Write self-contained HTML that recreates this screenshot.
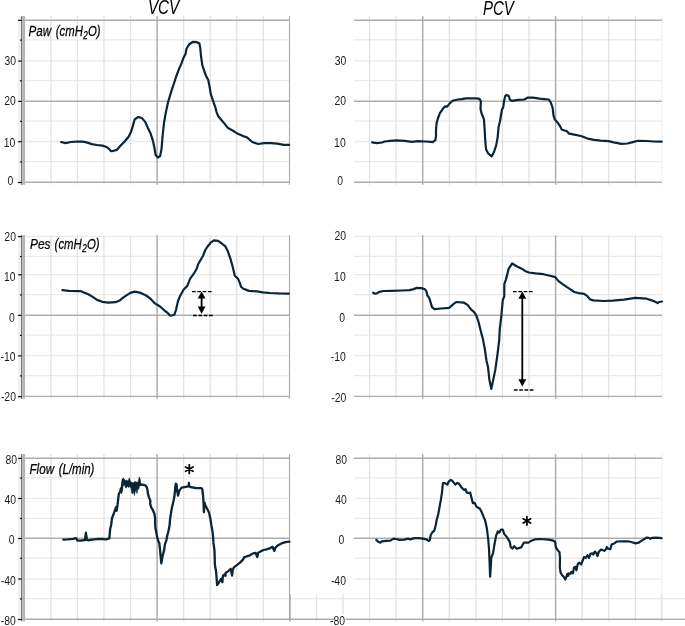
<!DOCTYPE html>
<html><head><meta charset="utf-8"><style>
html,body{margin:0;padding:0;background:#fff;}
svg{display:block;}
</style></head><body>
<svg width="685" height="626" viewBox="0 0 685 626">
<rect width="685" height="626" fill="#fff"/>
<line x1="25.10" y1="39.90" x2="289.90" y2="39.90" stroke="#e9e9e9" stroke-width="1.3"/>
<line x1="25.10" y1="60.90" x2="289.90" y2="60.90" stroke="#e9e9e9" stroke-width="1.3"/>
<line x1="25.10" y1="80.60" x2="289.90" y2="80.60" stroke="#e9e9e9" stroke-width="1.3"/>
<line x1="25.10" y1="121.20" x2="289.90" y2="121.20" stroke="#e9e9e9" stroke-width="1.3"/>
<line x1="25.10" y1="141.50" x2="289.90" y2="141.50" stroke="#e9e9e9" stroke-width="1.3"/>
<line x1="25.10" y1="161.70" x2="289.90" y2="161.70" stroke="#e9e9e9" stroke-width="1.3"/>
<line x1="50.86" y1="16.10" x2="50.86" y2="184.80" stroke="#e2e2e2" stroke-width="1.3"/>
<line x1="77.42" y1="16.10" x2="77.42" y2="184.80" stroke="#e2e2e2" stroke-width="1.3"/>
<line x1="103.98" y1="16.10" x2="103.98" y2="184.80" stroke="#e2e2e2" stroke-width="1.3"/>
<line x1="130.54" y1="16.10" x2="130.54" y2="184.80" stroke="#e2e2e2" stroke-width="1.3"/>
<line x1="183.66" y1="16.10" x2="183.66" y2="184.80" stroke="#e2e2e2" stroke-width="1.3"/>
<line x1="210.22" y1="16.10" x2="210.22" y2="184.80" stroke="#e2e2e2" stroke-width="1.3"/>
<line x1="236.78" y1="16.10" x2="236.78" y2="184.80" stroke="#e2e2e2" stroke-width="1.3"/>
<line x1="263.34" y1="16.10" x2="263.34" y2="184.80" stroke="#e2e2e2" stroke-width="1.3"/>
<line x1="354.00" y1="39.90" x2="661.92" y2="39.90" stroke="#e9e9e9" stroke-width="1.3"/>
<line x1="354.00" y1="60.90" x2="661.92" y2="60.90" stroke="#e9e9e9" stroke-width="1.3"/>
<line x1="354.00" y1="80.60" x2="661.92" y2="80.60" stroke="#e9e9e9" stroke-width="1.3"/>
<line x1="354.00" y1="121.20" x2="661.92" y2="121.20" stroke="#e9e9e9" stroke-width="1.3"/>
<line x1="354.00" y1="141.50" x2="661.92" y2="141.50" stroke="#e9e9e9" stroke-width="1.3"/>
<line x1="354.00" y1="161.70" x2="661.92" y2="161.70" stroke="#e9e9e9" stroke-width="1.3"/>
<line x1="369.54" y1="16.10" x2="369.54" y2="184.80" stroke="#e2e2e2" stroke-width="1.3"/>
<line x1="396.12" y1="16.10" x2="396.12" y2="184.80" stroke="#e2e2e2" stroke-width="1.3"/>
<line x1="449.28" y1="16.10" x2="449.28" y2="184.80" stroke="#e2e2e2" stroke-width="1.3"/>
<line x1="475.86" y1="16.10" x2="475.86" y2="184.80" stroke="#e2e2e2" stroke-width="1.3"/>
<line x1="502.44" y1="16.10" x2="502.44" y2="184.80" stroke="#e2e2e2" stroke-width="1.3"/>
<line x1="529.02" y1="16.10" x2="529.02" y2="184.80" stroke="#e2e2e2" stroke-width="1.3"/>
<line x1="582.18" y1="16.10" x2="582.18" y2="184.80" stroke="#e2e2e2" stroke-width="1.3"/>
<line x1="608.76" y1="16.10" x2="608.76" y2="184.80" stroke="#e2e2e2" stroke-width="1.3"/>
<line x1="635.34" y1="16.10" x2="635.34" y2="184.80" stroke="#e2e2e2" stroke-width="1.3"/>
<line x1="661.92" y1="16.10" x2="661.92" y2="184.80" stroke="#f2f2f2" stroke-width="1.3"/>
<rect x="17.8" y="16.10" width="3.2" height="168.70" fill="#f1f1f1"/>
<rect x="21.0" y="16.10" width="1.3" height="168.70" fill="#7a7a7a"/>
<rect x="22.3" y="16.10" width="2.8" height="168.70" fill="#b4b4b4"/>
<line x1="25.10" y1="236.40" x2="289.90" y2="236.40" stroke="#e9e9e9" stroke-width="1.3"/>
<line x1="25.10" y1="256.30" x2="289.90" y2="256.30" stroke="#e9e9e9" stroke-width="1.3"/>
<line x1="25.10" y1="274.60" x2="289.90" y2="274.60" stroke="#e9e9e9" stroke-width="1.3"/>
<line x1="25.10" y1="294.70" x2="289.90" y2="294.70" stroke="#e9e9e9" stroke-width="1.3"/>
<line x1="25.10" y1="335.20" x2="289.90" y2="335.20" stroke="#e9e9e9" stroke-width="1.3"/>
<line x1="25.10" y1="355.70" x2="289.90" y2="355.70" stroke="#e9e9e9" stroke-width="1.3"/>
<line x1="25.10" y1="375.70" x2="289.90" y2="375.70" stroke="#e9e9e9" stroke-width="1.3"/>
<line x1="50.86" y1="235.20" x2="50.86" y2="398.70" stroke="#e2e2e2" stroke-width="1.3"/>
<line x1="77.42" y1="235.20" x2="77.42" y2="398.70" stroke="#e2e2e2" stroke-width="1.3"/>
<line x1="103.98" y1="235.20" x2="103.98" y2="398.70" stroke="#e2e2e2" stroke-width="1.3"/>
<line x1="130.54" y1="235.20" x2="130.54" y2="398.70" stroke="#e2e2e2" stroke-width="1.3"/>
<line x1="183.66" y1="235.20" x2="183.66" y2="398.70" stroke="#e2e2e2" stroke-width="1.3"/>
<line x1="210.22" y1="235.20" x2="210.22" y2="398.70" stroke="#e2e2e2" stroke-width="1.3"/>
<line x1="236.78" y1="235.20" x2="236.78" y2="398.70" stroke="#e2e2e2" stroke-width="1.3"/>
<line x1="263.34" y1="235.20" x2="263.34" y2="398.70" stroke="#e2e2e2" stroke-width="1.3"/>
<line x1="354.00" y1="236.40" x2="661.92" y2="236.40" stroke="#e9e9e9" stroke-width="1.3"/>
<line x1="354.00" y1="256.30" x2="661.92" y2="256.30" stroke="#e9e9e9" stroke-width="1.3"/>
<line x1="354.00" y1="274.60" x2="661.92" y2="274.60" stroke="#e9e9e9" stroke-width="1.3"/>
<line x1="354.00" y1="294.70" x2="661.92" y2="294.70" stroke="#e9e9e9" stroke-width="1.3"/>
<line x1="354.00" y1="335.20" x2="661.92" y2="335.20" stroke="#e9e9e9" stroke-width="1.3"/>
<line x1="354.00" y1="355.70" x2="661.92" y2="355.70" stroke="#e9e9e9" stroke-width="1.3"/>
<line x1="354.00" y1="375.70" x2="661.92" y2="375.70" stroke="#e9e9e9" stroke-width="1.3"/>
<line x1="369.54" y1="235.20" x2="369.54" y2="398.70" stroke="#e2e2e2" stroke-width="1.3"/>
<line x1="396.12" y1="235.20" x2="396.12" y2="398.70" stroke="#e2e2e2" stroke-width="1.3"/>
<line x1="449.28" y1="235.20" x2="449.28" y2="398.70" stroke="#e2e2e2" stroke-width="1.3"/>
<line x1="475.86" y1="235.20" x2="475.86" y2="398.70" stroke="#e2e2e2" stroke-width="1.3"/>
<line x1="502.44" y1="235.20" x2="502.44" y2="398.70" stroke="#e2e2e2" stroke-width="1.3"/>
<line x1="529.02" y1="235.20" x2="529.02" y2="398.70" stroke="#e2e2e2" stroke-width="1.3"/>
<line x1="582.18" y1="235.20" x2="582.18" y2="398.70" stroke="#e2e2e2" stroke-width="1.3"/>
<line x1="608.76" y1="235.20" x2="608.76" y2="398.70" stroke="#e2e2e2" stroke-width="1.3"/>
<line x1="635.34" y1="235.20" x2="635.34" y2="398.70" stroke="#e2e2e2" stroke-width="1.3"/>
<line x1="661.92" y1="235.20" x2="661.92" y2="398.70" stroke="#f2f2f2" stroke-width="1.3"/>
<rect x="17.8" y="235.20" width="3.2" height="163.50" fill="#f1f1f1"/>
<rect x="21.0" y="235.20" width="1.3" height="163.50" fill="#7a7a7a"/>
<rect x="22.3" y="235.20" width="2.8" height="163.50" fill="#b4b4b4"/>
<line x1="25.10" y1="477.90" x2="289.90" y2="477.90" stroke="#e9e9e9" stroke-width="1.3"/>
<line x1="25.10" y1="498.30" x2="289.90" y2="498.30" stroke="#e9e9e9" stroke-width="1.3"/>
<line x1="25.10" y1="518.30" x2="289.90" y2="518.30" stroke="#e9e9e9" stroke-width="1.3"/>
<line x1="25.10" y1="558.10" x2="289.90" y2="558.10" stroke="#e9e9e9" stroke-width="1.3"/>
<line x1="25.10" y1="578.80" x2="289.90" y2="578.80" stroke="#e9e9e9" stroke-width="1.3"/>
<line x1="25.10" y1="598.70" x2="289.90" y2="598.70" stroke="#e9e9e9" stroke-width="1.3"/>
<line x1="50.86" y1="454.10" x2="50.86" y2="621.20" stroke="#e2e2e2" stroke-width="1.3"/>
<line x1="77.42" y1="454.10" x2="77.42" y2="621.20" stroke="#e2e2e2" stroke-width="1.3"/>
<line x1="103.98" y1="454.10" x2="103.98" y2="621.20" stroke="#e2e2e2" stroke-width="1.3"/>
<line x1="130.54" y1="454.10" x2="130.54" y2="621.20" stroke="#e2e2e2" stroke-width="1.3"/>
<line x1="183.66" y1="454.10" x2="183.66" y2="621.20" stroke="#e2e2e2" stroke-width="1.3"/>
<line x1="210.22" y1="454.10" x2="210.22" y2="621.20" stroke="#e2e2e2" stroke-width="1.3"/>
<line x1="236.78" y1="454.10" x2="236.78" y2="621.20" stroke="#e2e2e2" stroke-width="1.3"/>
<line x1="263.34" y1="454.10" x2="263.34" y2="621.20" stroke="#e2e2e2" stroke-width="1.3"/>
<line x1="354.00" y1="477.90" x2="661.92" y2="477.90" stroke="#e9e9e9" stroke-width="1.3"/>
<line x1="354.00" y1="498.30" x2="661.92" y2="498.30" stroke="#e9e9e9" stroke-width="1.3"/>
<line x1="354.00" y1="518.30" x2="661.92" y2="518.30" stroke="#e9e9e9" stroke-width="1.3"/>
<line x1="354.00" y1="558.10" x2="661.92" y2="558.10" stroke="#e9e9e9" stroke-width="1.3"/>
<line x1="354.00" y1="578.80" x2="661.92" y2="578.80" stroke="#e9e9e9" stroke-width="1.3"/>
<line x1="354.00" y1="598.70" x2="661.92" y2="598.70" stroke="#e9e9e9" stroke-width="1.3"/>
<line x1="369.54" y1="454.10" x2="369.54" y2="621.20" stroke="#e2e2e2" stroke-width="1.3"/>
<line x1="396.12" y1="454.10" x2="396.12" y2="621.20" stroke="#e2e2e2" stroke-width="1.3"/>
<line x1="449.28" y1="454.10" x2="449.28" y2="621.20" stroke="#e2e2e2" stroke-width="1.3"/>
<line x1="475.86" y1="454.10" x2="475.86" y2="621.20" stroke="#e2e2e2" stroke-width="1.3"/>
<line x1="502.44" y1="454.10" x2="502.44" y2="621.20" stroke="#e2e2e2" stroke-width="1.3"/>
<line x1="529.02" y1="454.10" x2="529.02" y2="621.20" stroke="#e2e2e2" stroke-width="1.3"/>
<line x1="582.18" y1="454.10" x2="582.18" y2="621.20" stroke="#e2e2e2" stroke-width="1.3"/>
<line x1="608.76" y1="454.10" x2="608.76" y2="621.20" stroke="#e2e2e2" stroke-width="1.3"/>
<line x1="635.34" y1="454.10" x2="635.34" y2="621.20" stroke="#e2e2e2" stroke-width="1.3"/>
<line x1="661.92" y1="454.10" x2="661.92" y2="621.20" stroke="#f2f2f2" stroke-width="1.3"/>
<rect x="17.8" y="454.10" width="3.2" height="167.10" fill="#f1f1f1"/>
<rect x="21.0" y="454.10" width="1.3" height="167.10" fill="#7a7a7a"/>
<rect x="22.3" y="454.10" width="2.8" height="167.10" fill="#b4b4b4"/>
<line x1="316.46" y1="594.00" x2="316.46" y2="621.20" stroke="#e2e2e2" stroke-width="1.3"/>
<line x1="342.96" y1="594.00" x2="342.96" y2="615.00" stroke="#e2e2e2" stroke-width="1.3"/>
<line x1="661.70" y1="594.00" x2="661.70" y2="621.20" stroke="#e2e2e2" stroke-width="1.3"/>
<line x1="289.90" y1="598.70" x2="354.00" y2="598.70" stroke="#e9e9e9" stroke-width="1.3"/>
<line x1="661.70" y1="598.70" x2="685.00" y2="598.70" stroke="#e9e9e9" stroke-width="1.3"/>
<line x1="25.10" y1="20.20" x2="289.90" y2="20.20" stroke="#adadad" stroke-width="1.4"/>
<line x1="25.10" y1="101.20" x2="289.90" y2="101.20" stroke="#adadad" stroke-width="1.4"/>
<line x1="25.10" y1="182.30" x2="289.90" y2="182.30" stroke="#adadad" stroke-width="1.4"/>
<line x1="157.10" y1="16.10" x2="157.10" y2="184.80" stroke="#adadad" stroke-width="1.5"/>
<line x1="289.50" y1="16.10" x2="289.50" y2="184.80" stroke="#a8a8a8" stroke-width="1.1"/>
<line x1="354.00" y1="20.20" x2="661.92" y2="20.20" stroke="#adadad" stroke-width="1.4"/>
<line x1="354.00" y1="101.20" x2="661.92" y2="101.20" stroke="#adadad" stroke-width="1.4"/>
<line x1="354.00" y1="182.30" x2="661.92" y2="182.30" stroke="#adadad" stroke-width="1.4"/>
<line x1="422.70" y1="16.10" x2="422.70" y2="184.80" stroke="#adadad" stroke-width="1.5"/>
<line x1="555.60" y1="16.10" x2="555.60" y2="184.80" stroke="#adadad" stroke-width="1.5"/>
<line x1="18.10" y1="20.40" x2="21.80" y2="20.40" stroke="#111" stroke-width="1.2"/>
<line x1="19.90" y1="40.10" x2="21.80" y2="40.10" stroke="#111" stroke-width="1.2"/>
<line x1="18.10" y1="61.10" x2="21.80" y2="61.10" stroke="#111" stroke-width="1.2"/>
<line x1="19.90" y1="80.80" x2="21.80" y2="80.80" stroke="#111" stroke-width="1.2"/>
<line x1="18.10" y1="101.40" x2="21.80" y2="101.40" stroke="#111" stroke-width="1.2"/>
<line x1="19.90" y1="121.40" x2="21.80" y2="121.40" stroke="#111" stroke-width="1.2"/>
<line x1="18.10" y1="141.70" x2="21.80" y2="141.70" stroke="#111" stroke-width="1.2"/>
<line x1="19.90" y1="161.90" x2="21.80" y2="161.90" stroke="#111" stroke-width="1.2"/>
<line x1="18.10" y1="182.50" x2="21.80" y2="182.50" stroke="#111" stroke-width="1.2"/>
<line x1="25.10" y1="315.20" x2="289.90" y2="315.20" stroke="#adadad" stroke-width="1.4"/>
<line x1="25.10" y1="396.40" x2="289.90" y2="396.40" stroke="#adadad" stroke-width="1.4"/>
<line x1="157.10" y1="235.20" x2="157.10" y2="398.70" stroke="#adadad" stroke-width="1.5"/>
<line x1="289.50" y1="235.20" x2="289.50" y2="398.70" stroke="#a8a8a8" stroke-width="1.1"/>
<line x1="354.00" y1="315.20" x2="661.92" y2="315.20" stroke="#adadad" stroke-width="1.4"/>
<line x1="354.00" y1="396.40" x2="661.92" y2="396.40" stroke="#adadad" stroke-width="1.4"/>
<line x1="422.70" y1="235.20" x2="422.70" y2="398.70" stroke="#adadad" stroke-width="1.5"/>
<line x1="555.60" y1="235.20" x2="555.60" y2="398.70" stroke="#adadad" stroke-width="1.5"/>
<line x1="18.10" y1="236.60" x2="21.80" y2="236.60" stroke="#111" stroke-width="1.2"/>
<line x1="19.90" y1="256.50" x2="21.80" y2="256.50" stroke="#111" stroke-width="1.2"/>
<line x1="18.10" y1="274.80" x2="21.80" y2="274.80" stroke="#111" stroke-width="1.2"/>
<line x1="19.90" y1="294.90" x2="21.80" y2="294.90" stroke="#111" stroke-width="1.2"/>
<line x1="18.10" y1="315.40" x2="21.80" y2="315.40" stroke="#111" stroke-width="1.2"/>
<line x1="19.90" y1="335.40" x2="21.80" y2="335.40" stroke="#111" stroke-width="1.2"/>
<line x1="18.10" y1="355.90" x2="21.80" y2="355.90" stroke="#111" stroke-width="1.2"/>
<line x1="19.90" y1="375.90" x2="21.80" y2="375.90" stroke="#111" stroke-width="1.2"/>
<line x1="18.10" y1="396.60" x2="21.80" y2="396.60" stroke="#111" stroke-width="1.2"/>
<line x1="25.10" y1="458.20" x2="289.90" y2="458.20" stroke="#adadad" stroke-width="1.4"/>
<line x1="25.10" y1="538.30" x2="289.90" y2="538.30" stroke="#adadad" stroke-width="1.4"/>
<line x1="25.10" y1="619.30" x2="289.90" y2="619.30" stroke="#adadad" stroke-width="1.4"/>
<line x1="157.10" y1="454.10" x2="157.10" y2="621.20" stroke="#adadad" stroke-width="1.5"/>
<line x1="289.50" y1="454.10" x2="289.50" y2="621.20" stroke="#a8a8a8" stroke-width="1.1"/>
<line x1="354.00" y1="458.20" x2="661.92" y2="458.20" stroke="#adadad" stroke-width="1.4"/>
<line x1="354.00" y1="538.30" x2="661.92" y2="538.30" stroke="#adadad" stroke-width="1.4"/>
<line x1="354.00" y1="619.30" x2="661.92" y2="619.30" stroke="#adadad" stroke-width="1.4"/>
<line x1="422.70" y1="454.10" x2="422.70" y2="621.20" stroke="#adadad" stroke-width="1.5"/>
<line x1="555.60" y1="454.10" x2="555.60" y2="621.20" stroke="#adadad" stroke-width="1.5"/>
<line x1="18.10" y1="458.40" x2="21.80" y2="458.40" stroke="#111" stroke-width="1.2"/>
<line x1="19.90" y1="478.10" x2="21.80" y2="478.10" stroke="#111" stroke-width="1.2"/>
<line x1="18.10" y1="498.50" x2="21.80" y2="498.50" stroke="#111" stroke-width="1.2"/>
<line x1="19.90" y1="518.50" x2="21.80" y2="518.50" stroke="#111" stroke-width="1.2"/>
<line x1="18.10" y1="538.50" x2="21.80" y2="538.50" stroke="#111" stroke-width="1.2"/>
<line x1="19.90" y1="558.30" x2="21.80" y2="558.30" stroke="#111" stroke-width="1.2"/>
<line x1="18.10" y1="579.00" x2="21.80" y2="579.00" stroke="#111" stroke-width="1.2"/>
<line x1="19.90" y1="598.90" x2="21.80" y2="598.90" stroke="#111" stroke-width="1.2"/>
<line x1="18.10" y1="619.50" x2="21.80" y2="619.50" stroke="#111" stroke-width="1.2"/>
<line x1="688.50" y1="594.00" x2="688.50" y2="621.20" stroke="#adadad" stroke-width="1.5"/>
<line x1="290.20" y1="594.00" x2="290.20" y2="621.20" stroke="#b0b0b0" stroke-width="1.3"/>
<line x1="289.90" y1="619.30" x2="354.00" y2="619.30" stroke="#adadad" stroke-width="1.4"/>
<line x1="661.70" y1="619.30" x2="685.00" y2="619.30" stroke="#adadad" stroke-width="1.4"/>
<polyline points="61.1,142.0 65.5,143.1 70.8,142.0 77.8,141.5 83.0,141.7 87.4,142.6 91.8,144.1 97.0,145.0 102.3,145.6 106.7,147.0 109.3,149.1 111.1,151.2 113.7,150.8 116.7,149.9 119.8,146.4 124.2,142.0 128.6,136.8 131.2,131.5 133.0,125.4 134.7,119.3 138.2,117.0 141.7,117.9 145.2,121.9 147.9,128.0 150.5,133.3 152.8,140.3 154.5,148.2 155.7,155.2 158.0,157.5 160.1,156.1 161.5,149.1 162.7,135.0 164.0,122.8 165.7,113.1 168.1,102.0 170.1,95.4 172.1,88.9 174.1,83.0 176.0,77.0 178.7,69.8 181.3,63.9 183.2,58.6 185.5,54.1 186.5,48.8 189.2,44.2 193.1,41.8 197.0,42.2 199.4,43.5 200.3,48.1 201.0,56.0 202.3,65.2 204.3,71.1 206.2,76.4 208.2,79.7 209.5,86.2 210.8,94.1 212.9,100.3 215.2,106.8 216.6,112.1 218.1,116.0 221.4,120.0 224.7,123.9 228.0,128.1 232.6,130.5 237.2,133.4 243.1,136.1 246.8,137.3 249.7,139.7 252.3,142.0 258.2,144.0 264.1,143.2 270.7,143.1 277.3,143.7 281.2,144.4 283.8,144.9 289.1,144.9" fill="none" stroke="#0b2536" stroke-width="2.2" stroke-linejoin="round" stroke-linecap="round"/>
<polyline points="372.2,142.4 376.8,143.2 382.1,142.5 384.7,141.5 390.0,140.8 396.5,140.4 404.4,140.8 412.3,141.8 417.6,141.2 425.4,141.5 430.7,141.8 432.7,142.2 435.3,140.2 436.0,136.2 436.0,129.7 436.6,123.1 437.9,118.5 439.9,113.2 442.5,109.3 445.1,106.3 447.1,106.7 449.1,104.1 451.7,101.4 453.3,100.5 457.9,99.5 461.8,99.1 465.8,98.3 471.0,98.3 476.3,98.4 479.6,98.9 480.9,101.4 480.5,108.6 481.5,113.2 483.9,119.2 484.6,128.4 485.2,140.2 486.1,149.4 488.1,153.3 491.8,156.3 494.0,152.0 496.2,145.4 497.6,137.6 498.6,127.0 499.9,121.8 501.9,110.0 503.2,107.3 504.1,100.8 505.2,96.2 506.8,94.9 508.9,96.2 509.8,99.5 511.8,100.8 518.3,99.8 524.2,99.5 527.5,97.7 532.8,97.7 539.6,98.7 544.2,99.1 548.8,99.5 550.8,102.7 552.7,108.0 553.4,115.2 554.7,119.2 558.0,123.1 560.2,126.4 561.9,129.7 566.5,131.0 569.2,133.6 574.4,134.7 581.0,136.0 587.6,138.6 594.1,139.9 600.7,140.7 608.6,141.1 613.8,142.4 621.4,143.8 627.5,143.5 632.8,142.1 638.0,140.8 646.8,141.0 653.8,141.5 661.7,141.7" fill="none" stroke="#0b2536" stroke-width="2.2" stroke-linejoin="round" stroke-linecap="round"/>
<polyline points="62.4,290.2 69.0,290.8 80.4,291.1 83.9,292.5 88.3,294.3 92.7,296.9 97.0,299.9 102.3,301.8 108.4,302.7 115.4,302.2 119.8,300.4 124.2,296.9 130.3,292.9 134.7,291.6 140.8,292.9 146.1,295.5 150.5,298.7 154.9,303.4 160.1,306.5 164.3,310.3 167.9,313.2 170.4,315.7 174.4,314.7 176.1,309.6 178.0,301.0 180.1,296.0 183.7,289.5 187.3,285.9 190.2,278.7 193.8,273.7 196.7,268.7 198.1,264.3 201.0,259.3 203.1,255.7 205.3,250.0 208.2,245.7 211.0,242.4 213.9,240.3 218.2,240.9 221.8,243.5 225.4,246.4 227.6,250.7 230.4,258.6 232.6,266.5 234.8,275.8 238.1,278.9 239.8,282.9 241.1,286.8 243.3,288.8 246.4,289.9 249.0,290.9 256.9,291.4 263.0,292.3 270.0,293.0 278.8,293.4 288.9,293.6" fill="none" stroke="#0b2536" stroke-width="2.2" stroke-linejoin="round" stroke-linecap="round"/>
<polyline points="373.1,292.7 374.9,293.7 376.8,293.4 379.5,291.8 383.4,291.0 391.3,290.8 401.8,290.5 409.7,290.1 413.6,289.1 416.9,287.9 421.5,288.1 424.8,289.2 426.5,291.4 427.4,295.4 429.4,298.4 430.7,302.6 432.0,307.2 434.4,309.2 441.2,308.5 449.1,307.8 452.8,304.7 456.2,302.0 464.0,302.7 467.4,304.7 470.7,309.2 474.1,312.1 476.3,315.4 478.6,322.2 480.8,331.1 483.1,340.1 484.8,349.0 486.4,360.2 488.0,366.9 489.3,379.2 491.3,388.9 493.1,380.4 495.4,369.2 497.6,353.5 499.2,340.1 499.8,328.9 501.4,315.4 502.8,299.8 504.3,296.4 504.3,284.1 505.9,279.6 508.8,268.4 512.2,263.5 516.6,266.2 522.2,268.9 525.0,270.9 528.9,272.5 535.5,273.4 543.4,274.2 550.0,275.8 555.2,277.1 558.5,281.1 564.4,285.4 569.7,288.9 574.3,292.0 578.9,293.1 584.1,293.8 587.4,296.2 590.0,299.4 593.3,300.4 603.8,301.0 612.6,300.6 624.0,299.6 635.4,297.9 646.7,298.7 652.4,300.6 657.7,303.1 659.1,302.0 661.9,301.5" fill="none" stroke="#0b2536" stroke-width="2.2" stroke-linejoin="round" stroke-linecap="round"/>
<polyline points="63.3,539.6 67.8,539.3 72.9,538.8 76.1,538.1 77.4,540.5 80.6,540.7 85.0,540.0 85.9,532.6 87.0,540.0 88.2,540.3 92.1,539.6 98.5,538.8 102.3,539.0 106.1,539.3 109.3,538.4 110.2,528.8 111.2,525.0 111.9,518.6 113.8,513.5 115.1,509.6 116.1,507.1 116.6,510.9 117.6,504.5 118.3,498.1 118.9,493.6 120.2,491.7 120.8,488.5 121.6,489.5 122.4,483.4 123.2,479.5 125.0,482.5 127.0,483.5 129.4,482.0 131.5,485.0 133.5,486.0 136.0,485.0 138.5,484.5 140.4,484.3 142.2,484.7 145.4,485.4 146.8,487.2 147.6,490.8 147.9,493.7 149.0,497.3 150.4,500.9 150.1,503.7 151.2,507.3 152.9,510.2 154.4,513.8 155.1,518.1 155.2,525.0 155.5,528.5 156.0,531.0 157.1,536.9 158.6,542.0 159.3,542.8 160.1,550.1 161.3,563.4 162.6,556.0 164.3,549.4 164.9,544.3 166.3,540.6 167.1,536.2 168.5,531.0 169.6,525.0 170.2,518.1 171.7,508.8 173.5,500.9 174.5,495.8 175.2,488.0 175.8,483.6 176.6,484.5 177.0,490.0 178.0,495.6 179.4,490.4 181.6,487.6 186.0,486.8 188.5,486.4 188.9,482.8 189.3,486.4 190.8,487.2 195.6,488.0 201.5,488.1 202.3,489.2 203.1,496.0 203.5,502.4 203.9,512.3 204.5,502.4 205.1,504.8 207.5,509.5 209.1,512.7 210.3,518.3 211.5,526.0 212.7,532.6 213.5,542.9 214.5,551.0 214.9,564.7 216.1,571.7 216.7,579.3 217.1,585.1 218.4,583.4 220.8,579.3 221.3,578.7 222.4,582.2 222.8,576.9 223.1,575.5 224.6,574.6 225.4,575.8 225.7,572.8 227.2,572.0 230.7,568.8 232.1,575.5 232.7,569.9 233.9,567.3 236.5,565.3 240.0,562.6 243.0,559.6 244.2,557.4 246.8,556.3 249.9,555.3 252.5,553.6 255.6,552.8 257.3,557.0 258.2,552.8 260.5,551.6 263.5,550.0 266.6,549.3 270.4,548.1 272.5,546.8 274.3,551.0 275.3,547.9 277.6,545.5 281.4,543.4 285.6,542.2 289.4,541.6" fill="none" stroke="#0b2536" stroke-width="2.3" stroke-linejoin="round" stroke-linecap="round"/>
<polyline points="376.3,539.9 378.1,541.6 380.2,542.7 381.8,541.3 385.8,540.9 390.4,540.6 393.6,538.6 396.3,539.0 399.6,539.9 404.2,539.6 408.1,538.6 410.1,539.4 414.7,538.1 418.6,538.1 422.6,538.6 426.5,539.4 428.5,541.0 429.8,540.3 430.7,535.0 432.4,532.4 434.4,530.4 435.7,525.2 436.7,519.9 438.3,514.0 439.6,506.8 440.9,499.6 442.0,492.3 442.9,483.1 444.9,483.1 447.5,484.5 448.6,481.6 450.8,479.9 452.6,481.2 455.3,484.7 457.4,482.9 459.1,483.8 461.4,487.3 464.1,490.0 465.5,489.1 466.7,492.6 469.0,492.9 470.2,492.6 471.5,497.9 472.9,503.1 474.6,502.8 476.4,506.6 479.9,508.8 481.6,511.9 483.4,516.3 485.2,520.7 486.9,528.6 488.3,540.1 489.0,548.8 489.6,562.9 490.1,576.6 490.8,566.4 491.3,557.6 493.1,553.2 494.3,545.3 496.1,535.7 497.8,531.3 499.2,532.7 501.0,529.5 502.7,529.5 504.2,533.9 507.1,537.4 509.8,541.8 510.7,547.1 512.4,548.5 514.2,546.2 516.8,548.8 521.2,547.4 523.8,542.7 528.5,542.6 531.4,540.7 535.5,539.3 540.2,539.0 548.4,539.6 552.4,540.3 555.1,541.7 555.9,547.5 557.7,550.1 559.5,552.2 560.0,558.0 559.8,567.4 560.6,572.6 562.4,575.5 564.1,577.3 565.3,579.6 566.5,576.7 567.3,573.8 568.2,575.8 569.1,573.4 570.5,573.8 571.5,571.8 572.9,573.4 574.1,567.4 575.5,566.8 576.4,570.3 577.8,563.9 579.3,562.7 581.1,564.5 582.5,561.0 584.0,557.1 585.7,557.8 587.5,555.1 589.0,558.0 590.4,553.9 592.2,553.4 593.3,554.5 594.8,551.6 596.2,552.8 597.5,556.0 598.8,551.9 601.0,549.5 604.3,550.8 605.9,549.5 606.8,547.0 607.9,548.6 610.3,549.2 611.6,544.5 614.2,543.4 616.9,541.5 622.4,541.3 627.8,541.3 632.2,542.3 635.5,543.4 638.8,542.6 642.1,540.4 646.5,537.7 648.7,537.9 650.3,538.8 651.9,537.9 656.3,537.7 661.6,538.2" fill="none" stroke="#0b2536" stroke-width="2.2" stroke-linejoin="round" stroke-linecap="round"/>
<polygon points="122.1,479.4 123.3,478.2 124.2,479.0 125.0,480.9 126.5,480.1 128.0,481.1 129.4,477.8 130.2,481.1 131.5,482.2 133.2,482.8 134.6,481.5 136.1,482.0 138.0,482.2 139.4,476.9 140.3,479.4 140.9,484.0 142.0,485.0 142.0,485.6 140.7,485.5 139.4,485.9 138.8,489.3 138.0,488.6 136.9,493.5 136.1,490.1 135.1,492.0 134.4,495.5 133.6,491.6 132.6,493.9 131.7,492.8 131.1,488.6 130.0,486.6 128.4,487.4 127.3,485.9 126.1,488.2 125.2,487.0 124.4,484.7 123.6,484.7 122.9,486.3 122.5,490.5 121.9,493.2 121.2,494.0" fill="#0b2536" stroke="#0b2536" stroke-width="0.6" stroke-linejoin="round"/>
<path d="M189.30,473.40L189.30,464.80M185.58,471.25L193.02,466.95M193.02,471.25L185.58,466.95" stroke="#000" stroke-width="1.8" stroke-linecap="round"/>
<rect x="334.6" y="614.8" width="10.8" height="11.2" fill="#fff"/>
<rect x="521" y="514.6" width="12" height="12.4" fill="#fff"/>
<path d="M526.90,525.10L526.90,516.70M523.26,523.00L530.54,518.80M530.54,523.00L523.26,518.80" stroke="#000" stroke-width="1.8" stroke-linecap="round"/>
<line x1="192.0" y1="291.6" x2="211.8" y2="291.6" stroke="#000" stroke-width="1.3" stroke-dasharray="3.7,1.6"/>
<line x1="193.1" y1="315.5" x2="213.0" y2="315.5" stroke="#000" stroke-width="1.3" stroke-dasharray="3.7,1.6"/>
<line x1="201.6" y1="294.4" x2="201.6" y2="310.8" stroke="#000" stroke-width="1.8"/>
<path d="M201.6,291.4 L197.7,298.59999999999997 L205.5,298.59999999999997Z" fill="#000"/>
<path d="M201.6,313.8 L197.7,306.6 L205.5,306.6Z" fill="#000"/>
<line x1="513.0" y1="291.6" x2="532.6" y2="291.6" stroke="#000" stroke-width="1.3" stroke-dasharray="3.7,1.6"/>
<line x1="513.9" y1="390.0" x2="533.8" y2="390.0" stroke="#000" stroke-width="1.3" stroke-dasharray="3.7,1.6"/>
<line x1="522.3" y1="294.6" x2="522.3" y2="383.5" stroke="#000" stroke-width="1.8"/>
<path d="M522.3,291.6 L518.4,298.8 L526.1999999999999,298.8Z" fill="#000"/>
<path d="M522.3,386.5 L518.4,379.3 L526.1999999999999,379.3Z" fill="#000"/>
<g style="filter:grayscale(1)">
<text transform="translate(147.9,13.7) scale(0.777,1)" style="font-family:'Liberation Sans',sans-serif;font-size:19.6px;font-style:italic" fill="#000">VCV</text>
<text transform="translate(482.9,14.7) scale(0.778,1)" style="font-family:'Liberation Sans',sans-serif;font-size:19.3px;font-style:italic" fill="#000">PCV</text>
<text transform="translate(28.59,35.6) scale(0.8253,1)" style="font-family:'Liberation Sans',sans-serif;font-size:14.1px;font-style:italic" fill="#000" stroke="#000" stroke-width="0.25">Paw</text>
<text transform="translate(55.80,35.6) scale(0.8037,1)" style="font-family:'Liberation Sans',sans-serif;font-size:14.1px;font-style:italic" fill="#000" stroke="#000" stroke-width="0.25">(cmH<tspan dx="0.5" dy="3.5" style="font-size:10.22px">2</tspan><tspan dx="0.3" dy="-3.5">O)</tspan></text>
<text transform="translate(30.08,248.9) scale(0.8426,1)" style="font-family:'Liberation Sans',sans-serif;font-size:14.1px;font-style:italic" fill="#000" stroke="#000" stroke-width="0.25">Pes</text>
<text transform="translate(54.60,248.9) scale(0.8074,1)" style="font-family:'Liberation Sans',sans-serif;font-size:14.1px;font-style:italic" fill="#000" stroke="#000" stroke-width="0.25">(cmH<tspan dx="0.5" dy="3.5" style="font-size:10.22px">2</tspan><tspan dx="0.3" dy="-3.5">O)</tspan></text>
<text transform="translate(29.49,473.6) scale(0.8267,1)" style="font-family:'Liberation Sans',sans-serif;font-size:14.1px;font-style:italic" fill="#000" stroke="#000" stroke-width="0.25">Flow</text>
<text transform="translate(58.69,473.6) scale(0.8142,1)" style="font-family:'Liberation Sans',sans-serif;font-size:14.1px;font-style:italic" fill="#000" stroke="#000" stroke-width="0.25">(L/min)</text>
<text transform="translate(4.50,64.69) scale(0.8,1)" style="font-family:'Liberation Sans',sans-serif;font-size:13.0px" fill="#1c1c1c">30</text>
<text transform="translate(4.25,105.29) scale(0.8,1)" style="font-family:'Liberation Sans',sans-serif;font-size:13.0px" fill="#1c1c1c">20</text>
<text transform="translate(3.82,147.38) scale(0.8,1)" style="font-family:'Liberation Sans',sans-serif;font-size:13.0px" fill="#1c1c1c">10</text>
<text transform="translate(7.41,184.99) scale(0.8,1)" style="font-family:'Liberation Sans',sans-serif;font-size:13.0px" fill="#1c1c1c">0</text>
<text transform="translate(4.35,240.54) scale(0.8,1)" style="font-family:'Liberation Sans',sans-serif;font-size:13.0px" fill="#1c1c1c">20</text>
<text transform="translate(3.97,280.99) scale(0.8,1)" style="font-family:'Liberation Sans',sans-serif;font-size:13.0px" fill="#1c1c1c">10</text>
<text transform="translate(9.06,321.88) scale(0.8,1)" style="font-family:'Liberation Sans',sans-serif;font-size:13.0px" fill="#1c1c1c">0</text>
<text transform="translate(0.61,360.63) scale(0.8,1)" style="font-family:'Liberation Sans',sans-serif;font-size:13.0px" fill="#1c1c1c">-10</text>
<text transform="translate(0.91,401.49) scale(0.8,1)" style="font-family:'Liberation Sans',sans-serif;font-size:13.0px" fill="#1c1c1c">-20</text>
<text transform="translate(5.38,463.88) scale(0.8,1)" style="font-family:'Liberation Sans',sans-serif;font-size:13.0px" fill="#1c1c1c">80</text>
<text transform="translate(4.58,503.79) scale(0.8,1)" style="font-family:'Liberation Sans',sans-serif;font-size:13.0px" fill="#1c1c1c">40</text>
<text transform="translate(8.76,543.99) scale(0.8,1)" style="font-family:'Liberation Sans',sans-serif;font-size:13.0px" fill="#1c1c1c">0</text>
<text transform="translate(0.76,584.99) scale(0.8,1)" style="font-family:'Liberation Sans',sans-serif;font-size:13.0px" fill="#1c1c1c">-40</text>
<text transform="translate(0.71,625.19) scale(0.8,1)" style="font-family:'Liberation Sans',sans-serif;font-size:13.0px" fill="#1c1c1c">-80</text>
<text transform="translate(334.75,64.69) scale(0.8,1)" style="font-family:'Liberation Sans',sans-serif;font-size:13.0px" fill="#1c1c1c">30</text>
<text transform="translate(334.50,105.29) scale(0.8,1)" style="font-family:'Liberation Sans',sans-serif;font-size:13.0px" fill="#1c1c1c">20</text>
<text transform="translate(334.12,147.38) scale(0.8,1)" style="font-family:'Liberation Sans',sans-serif;font-size:13.0px" fill="#1c1c1c">10</text>
<text transform="translate(337.36,184.99) scale(0.8,1)" style="font-family:'Liberation Sans',sans-serif;font-size:13.0px" fill="#1c1c1c">0</text>
<text transform="translate(334.50,240.39) scale(0.8,1)" style="font-family:'Liberation Sans',sans-serif;font-size:13.0px" fill="#1c1c1c">20</text>
<text transform="translate(334.12,280.99) scale(0.8,1)" style="font-family:'Liberation Sans',sans-serif;font-size:13.0px" fill="#1c1c1c">10</text>
<text transform="translate(339.36,321.88) scale(0.8,1)" style="font-family:'Liberation Sans',sans-serif;font-size:13.0px" fill="#1c1c1c">0</text>
<text transform="translate(330.76,360.88) scale(0.8,1)" style="font-family:'Liberation Sans',sans-serif;font-size:13.0px" fill="#1c1c1c">-10</text>
<text transform="translate(331.21,401.54) scale(0.8,1)" style="font-family:'Liberation Sans',sans-serif;font-size:13.0px" fill="#1c1c1c">-20</text>
<text transform="translate(335.58,463.99) scale(0.8,1)" style="font-family:'Liberation Sans',sans-serif;font-size:13.0px" fill="#1c1c1c">80</text>
<text transform="translate(335.23,503.79) scale(0.8,1)" style="font-family:'Liberation Sans',sans-serif;font-size:13.0px" fill="#1c1c1c">40</text>
<text transform="translate(338.51,543.89) scale(0.8,1)" style="font-family:'Liberation Sans',sans-serif;font-size:13.0px" fill="#1c1c1c">0</text>
<text transform="translate(330.91,584.99) scale(0.8,1)" style="font-family:'Liberation Sans',sans-serif;font-size:13.0px" fill="#1c1c1c">-40</text>
<text transform="translate(330.01,625.13) scale(0.8,1)" style="font-family:'Liberation Sans',sans-serif;font-size:13.0px" fill="#1c1c1c">-80</text>
</g>
</svg>
</body></html>
